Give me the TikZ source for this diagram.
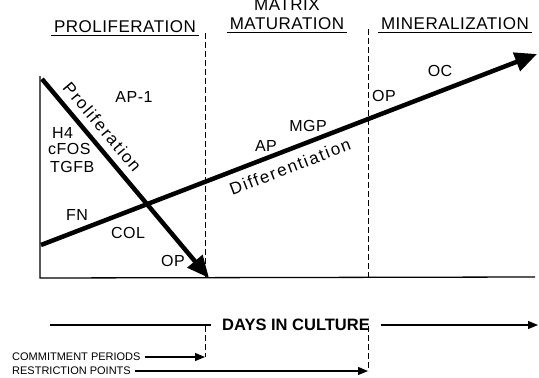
\documentclass[tikz,border=0pt]{standalone}
\usepackage{fontspec}
\setmainfont{Liberation Sans}
\newfontfamily\plotfont{Liberation Sans}[LetterSpace=3]
\newfontfamily\slopefont{Liberation Sans}[LetterSpace=10]
\usetikzlibrary{arrows.meta}

\begin{document}
\begin{tikzpicture}[x = 1pt, y = -1pt]
    \tikzset{
        hdr/.style = {
            font = \plotfont\fontsize{17}{19}\selectfont,
            inner sep = 3pt,
            anchor = base
        },
        lbl/.style = {
            font = \plotfont\fontsize{16}{18}\selectfont,
            inner sep = 0pt
        },
        trend/.style = {
            font = \slopefont\fontsize{17}{19}\selectfont,
            inner sep = 7pt,
            sloped
        },
        axis/.style = {line width = 1.3pt},
        bigarrow/.style = {
            line width = 4.5pt,
            -{Triangle[length = 22pt, width = 19pt]}
        },
        phase/.style = {line width = 0.8pt, dash pattern = on 6pt off 3pt},
        thinarrow/.style = {
            line width = 1.1pt,
            -{Triangle[length = 10pt, width = 8pt]}
        },
        note/.style = {
            font = \fontsize{11}{12}\selectfont,
            inner xsep = 4pt,
            inner ysep = 0pt,
            anchor = west
        }
    }

    \useasboundingbox (0, 0) rectangle (539, 378);

    % stage headings
    \node[hdr] (prolif) at (125, 32) {PROLIFERATION};
    \node[hdr] (matrix) at (287, 10) {MATRIX};
    \node[hdr] (matur) at (287, 29) {MATURATION};
    \node[hdr] (miner) at (455, 29) {MINERALIZATION};
    \foreach \h in {prolif, matur, miner}{
        \draw[line width = 0.8pt] (\h.south west) -- (\h.south east);
    }

    % restriction points between the stages
    \coordinate (rp1top) at (205, 33);
    \coordinate (rp1base) at (205, 278);
    \coordinate (rp2top) at (368, 29);
    \coordinate (rp2base) at (368, 277);
    \draw[phase] (rp1top) -- (rp1base);
    \draw[phase] (rp2top) -- (rp2base);

    % axes
    \coordinate (top) at (40, 76);
    \coordinate (origin) at (40, 278);
    \coordinate (tend) at (535, 277);
    \draw[axis] (top) -- (origin) -- (tend);

    % the two trends
    \coordinate (ps) at (42, 79);
    \coordinate (pe) at (209, 278);
    \coordinate (ds) at (41, 245);
    \coordinate (de) at (537, 54);
    \draw[bigarrow] (ps) -- node[trend, above, pos = 0.29] (prolabel) {Proliferation} (pe);
    \draw[bigarrow] (ds) -- node[trend, below, pos = 0.49, inner sep = 8pt] (diflabel) {Differentiation} (de);

    % expressed genes
    \node[lbl] (ap1) at (134, 97) {AP-1};
    \node[lbl, anchor = west] (h4) at (52, 133) {H4};
    \node[lbl, anchor = west] (cfos) at (48, 149) {cFOS};
    \node[lbl, anchor = west] (tgfb) at (50, 167) {TGFB};
    \node[lbl] (fn) at (77, 215) {FN};
    \node[lbl] (col) at (128, 233) {COL};
    \node[lbl] (opearly) at (173, 261) {OP};
    \node[lbl] (ap) at (266, 146) {AP};
    \node[lbl] (mgp) at (308, 126) {MGP};
    \node[lbl] (oplate) at (384, 96) {OP};
    \node[lbl] (oc) at (440, 71) {OC};

    % time line
    \node[font = \bfseries\fontsize{16.5}{19}\selectfont, inner xsep = 11pt, inner ysep = 0pt]
        (days) at (296, 325) {DAYS IN CULTURE};
    \coordinate (dstart) at (50, 325);
    \coordinate (dend) at (538, 325);
    \draw[line width = 1.1pt] (dstart) -- (days);
    \draw[thinarrow] (days) -- (dend);

    \node[note] (commit) at (8, 357) {COMMITMENT PERIODS};
    \node[note] (restrict) at (8, 371) {RESTRICTION POINTS};
    \coordinate (c1) at (205, 357);
    \coordinate (c2) at (368, 371);
    \coordinate (rp1low) at (205, 326);
    \coordinate (rp2low) at (368, 326);
    \draw[phase] (rp1low) -- (c1);
    \draw[phase] (rp2low) -- (c2);
    \draw[thinarrow] (commit) -- (c1);
    \draw[thinarrow] (restrict) -- (c2);

\end{tikzpicture}
\end{document}
